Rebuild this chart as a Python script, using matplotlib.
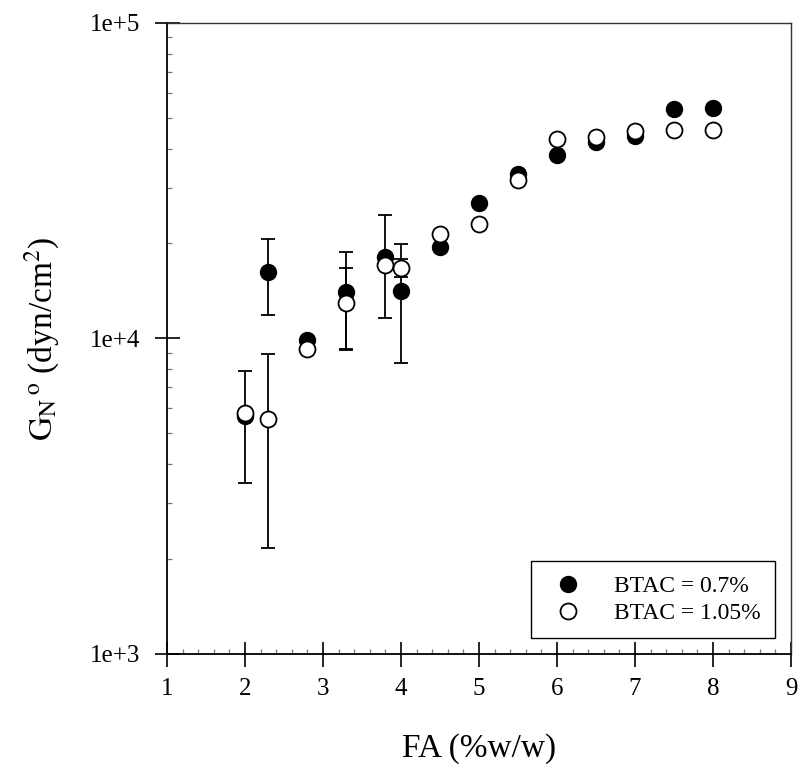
import numpy as np
import matplotlib
matplotlib.use("Agg")
import matplotlib.pyplot as plt
from matplotlib.lines import Line2D
from matplotlib.ticker import FixedLocator, FuncFormatter, MultipleLocator

# FA concentration (%w/w)
fa = [2.0, 2.3, 2.8, 3.3, 3.8, 4.0, 4.5, 5.0, 5.5, 6.0, 6.5, 7.0, 7.5, 8.0]

# Plateau modulus, BTAC = 0.7 %
g_07 = [5680, 16240, 9890, 14040, 18130, 14150, 19500, 26880, 33300, 38150, 41960, 43840, 53390, 53780]
err_07 = [2200, 4360, 0, 4760, 6500, 5800, 0, 0, 0, 0, 0, 0, 0, 0]

# Plateau modulus, BTAC = 1.05 %
g_105 = [5800, 5560, 9260, 12960, 17100, 16730, 21440, 23070, 31900, 42890, 43530, 45480, 45810, 45810]
err_105 = [0, 3390, 0, 3750, 0, 1070, 0, 0, 0, 0, 0, 0, 0, 0]

labels = ["BTAC = 0.7%", "BTAC = 1.05%"]

plt.rcParams["font.family"] = ["Liberation Serif", "DejaVu Serif"]
plt.rcParams["mathtext.fontset"] = "stix"

fig = plt.figure(figsize=(7.99, 7.65), dpi=100)
ax = fig.add_axes([0.209, 0.1451, 0.781, 0.8249])

ms = 11.5
ax.errorbar(fa, g_07, yerr=err_07, fmt="o", color="black", ms=ms,
            mec="black", mfc="black", ecolor="black", elinewidth=1.3,
            capsize=5, capthick=1.3, zorder=3)
ax.errorbar(fa, g_105, yerr=err_105, fmt="o", color="black", ms=ms,
            mec="black", mfc="white", mew=1.3, ecolor="black", elinewidth=1.3,
            capsize=5, capthick=1.3, zorder=4)

ax.set_yscale("log")
ax.set_xlim(1, 9)
ax.set_ylim(1e3, 1e5)

ax.xaxis.set_major_locator(MultipleLocator(1))
ax.xaxis.set_minor_locator(MultipleLocator(0.2))
ax.yaxis.set_major_locator(FixedLocator([1e3, 1e4, 1e5]))
ax.yaxis.set_major_formatter(FuncFormatter(lambda v, p: "1e+%d" % round(np.log10(v))))
minor_y = [m * 10 ** d for d in (3, 4) for m in range(2, 10)]
ax.yaxis.set_minor_locator(FixedLocator(minor_y))

ax.tick_params(which="major", direction="inout", length=18, width=1.2,
               labelsize=18, top=False, right=False)
ax.tick_params(axis="x", which="major", pad=8)
ax.tick_params(axis="y", which="major", pad=10)
ax.tick_params(which="minor", direction="in", length=3.5, width=0.9,
               color="#777777", top=False, right=False)

for side in ["left", "bottom"]:
    ax.spines[side].set_linewidth(1.3)
for side in ["top", "right"]:
    ax.spines[side].set_linewidth(1.0)
    ax.spines[side].set_color("#333333")

ax.set_xlabel("FA (%w/w)", fontsize=24, labelpad=24)
ax.set_ylabel(r"$\mathrm{G_N{}^{\,o}}$ (dyn/cm$^{\mathrm{2}}$)",
              fontsize=24, labelpad=20)

handles = [
    Line2D([], [], marker="o", ls="none", ms=ms, mfc="black", mec="black"),
    Line2D([], [], marker="o", ls="none", ms=ms, mfc="white", mec="black", mew=1.3),
]
leg = ax.legend(handles, labels, loc="lower right", fontsize=17, frameon=True,
                fancybox=False, edgecolor="black", framealpha=1,
                handletextpad=1.0, handlelength=1.9, borderpad=0.6,
                labelspacing=0.25, bbox_to_anchor=(0.993, 0.006))
leg.get_frame().set_linewidth(1.0)

fig.savefig("out.png", dpi=100)
